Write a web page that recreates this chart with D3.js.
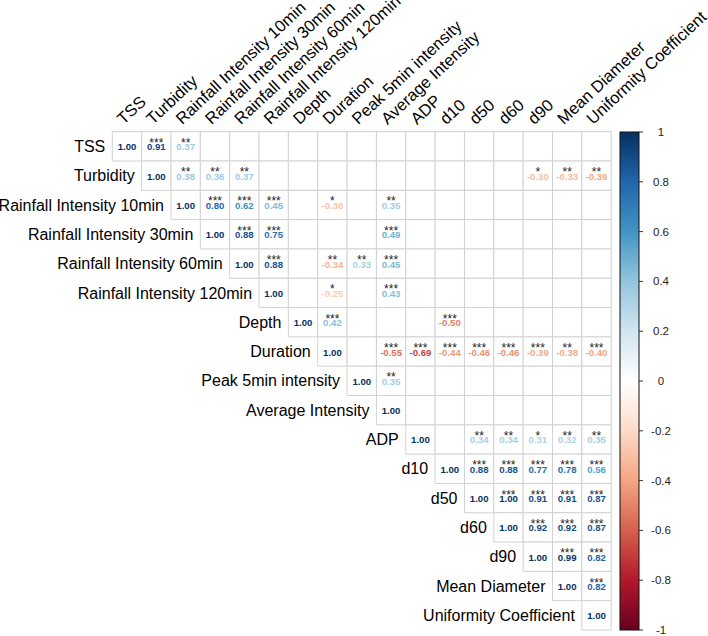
<!DOCTYPE html>
<html>
<head>
<meta charset="utf-8">
<script src="https://cdn.jsdelivr.net/npm/d3@7"></script>
<style>
  html, body { margin: 0; padding: 0; background: #fff; }
  svg { display: block; font-family: "Liberation Sans", Arial, sans-serif; }
</style>
</head>
<body>
<div id="chart"></div>
<script>
// Variables, in plot order
const vars = [
  "TSS", "Turbidity", "Rainfall Intensity 10min", "Rainfall Intensity 30min",
  "Rainfall Intensity 60min", "Rainfall Intensity 120min", "Depth", "Duration",
  "Peak 5min intensity", "Average Intensity", "ADP", "d10", "d50", "d60", "d90",
  "Mean Diameter", "Uniformity Coefficient"
];

// Significant off-diagonal correlations: [row, column, r, stars]
const pairs = [
  ["TSS", "Turbidity", 0.91, "***"],
  ["TSS", "Rainfall Intensity 10min", 0.37, "**"],
  ["Turbidity", "Rainfall Intensity 10min", 0.38, "**"],
  ["Turbidity", "Rainfall Intensity 30min", 0.36, "**"],
  ["Turbidity", "Rainfall Intensity 60min", 0.37, "**"],
  ["Turbidity", "d90", -0.30, "*"],
  ["Turbidity", "Mean Diameter", -0.33, "**"],
  ["Turbidity", "Uniformity Coefficient", -0.39, "**"],
  ["Rainfall Intensity 10min", "Rainfall Intensity 30min", 0.80, "***"],
  ["Rainfall Intensity 10min", "Rainfall Intensity 60min", 0.62, "***"],
  ["Rainfall Intensity 10min", "Rainfall Intensity 120min", 0.45, "***"],
  ["Rainfall Intensity 10min", "Duration", -0.30, "*"],
  ["Rainfall Intensity 10min", "Average Intensity", 0.35, "**"],
  ["Rainfall Intensity 30min", "Rainfall Intensity 60min", 0.88, "***"],
  ["Rainfall Intensity 30min", "Rainfall Intensity 120min", 0.75, "***"],
  ["Rainfall Intensity 30min", "Average Intensity", 0.49, "***"],
  ["Rainfall Intensity 60min", "Rainfall Intensity 120min", 0.88, "***"],
  ["Rainfall Intensity 60min", "Duration", -0.34, "**"],
  ["Rainfall Intensity 60min", "Peak 5min intensity", 0.33, "**"],
  ["Rainfall Intensity 60min", "Average Intensity", 0.45, "***"],
  ["Rainfall Intensity 120min", "Duration", -0.25, "*"],
  ["Rainfall Intensity 120min", "Average Intensity", 0.43, "***"],
  ["Depth", "Duration", 0.42, "***"],
  ["Depth", "d10", -0.50, "***"],
  ["Duration", "Average Intensity", -0.55, "***"],
  ["Duration", "ADP", -0.69, "***"],
  ["Duration", "d10", -0.44, "***"],
  ["Duration", "d50", -0.46, "***"],
  ["Duration", "d60", -0.46, "***"],
  ["Duration", "d90", -0.39, "***"],
  ["Duration", "Mean Diameter", -0.38, "**"],
  ["Duration", "Uniformity Coefficient", -0.40, "***"],
  ["Peak 5min intensity", "Average Intensity", 0.35, "**"],
  ["ADP", "d50", 0.34, "**"],
  ["ADP", "d60", 0.34, "**"],
  ["ADP", "d90", 0.31, "*"],
  ["ADP", "Mean Diameter", 0.32, "**"],
  ["ADP", "Uniformity Coefficient", 0.35, "**"],
  ["d10", "d50", 0.88, "***"],
  ["d10", "d60", 0.88, "***"],
  ["d10", "d90", 0.77, "***"],
  ["d10", "Mean Diameter", 0.78, "***"],
  ["d10", "Uniformity Coefficient", 0.56, "***"],
  ["d50", "d60", 1.00, "***"],
  ["d50", "d90", 0.91, "***"],
  ["d50", "Mean Diameter", 0.91, "***"],
  ["d50", "Uniformity Coefficient", 0.87, "***"],
  ["d60", "d90", 0.92, "***"],
  ["d60", "Mean Diameter", 0.92, "***"],
  ["d60", "Uniformity Coefficient", 0.87, "***"],
  ["d90", "Mean Diameter", 0.99, "***"],
  ["d90", "Uniformity Coefficient", 0.82, "***"],
  ["Mean Diameter", "Uniformity Coefficient", 0.82, "***"]
];

// RdBu palette used by corrplot, from -1 to 1
const paletteStops = ["#67001F", "#B2182B", "#D6604D", "#F4A582", "#FDDBC7", "#FFFFFF",
                      "#D1E5F0", "#92C5DE", "#4393C3", "#2166AC", "#053061"];
const legendTicks = [-1, -0.8, -0.6, -0.4, -0.2, 0, 0.2, 0.4, 0.6, 0.8, 1];

const width = 708, height = 636;

const svg = d3.select("#chart").append("svg")
  .attr("width", width)
  .attr("height", height);

const x = d3.scaleBand().domain(vars).range([112.3, 611.2]);
const y = d3.scaleBand().domain(vars).range([131.7, 630]);

const color = d3.scaleLinear()
  .domain(paletteStops.map((d, i) => -1 + i * 0.2))
  .range(paletteStops);

const fmt = v => v.toFixed(2);

// grid over the upper triangle (diagonal included)
const cells = [];
vars.forEach((r, i) => vars.forEach((c, j) => { if (j >= i) cells.push([r, c]); }));

svg.append("g")
  .selectAll("rect")
  .data(cells)
  .join("rect")
  .attr("x", d => x(d[1]))
  .attr("y", d => y(d[0]))
  .attr("width", x.bandwidth())
  .attr("height", y.bandwidth())
  .attr("fill", "#fff")
  .attr("stroke", "#d2d2d2")
  .attr("stroke-width", 1);

// diagonal + significant pairs
const shown = vars.map(v => [v, v, 1, ""]).concat(pairs);

const cell = svg.append("g")
  .selectAll("g")
  .data(shown)
  .join("g")
  .attr("transform", d => `translate(${x(d[1]) + x.bandwidth() / 2},${y(d[0]) + y.bandwidth() / 2})`);

cell.append("text")
  .attr("text-anchor", "middle")
  .attr("y", 4)
  .attr("font-size", 9.6)
  .attr("font-weight", "bold")
  .attr("fill", d => color(d[2]))
  .text(d => fmt(d[2]));

cell.append("text")
  .attr("text-anchor", "middle")
  .attr("y", 0.5)
  .attr("font-size", 12)
  .attr("fill", "#222")
  .text(d => d[3]);

// row labels
svg.append("g")
  .selectAll("text")
  .data(vars)
  .join("text")
  .attr("x", d => x(d) - 7)
  .attr("y", d => y(d) + y.bandwidth() / 2)
  .attr("dy", "0.35em")
  .attr("text-anchor", "end")
  .attr("font-size", 16)
  .attr("fill", "#000")
  .text(d => d);

// column labels
svg.append("g")
  .selectAll("text")
  .data(vars)
  .join("text")
  .attr("transform", d => `translate(${x(d) + x.bandwidth() / 2 - 3.5},${y.range()[0] - 6.5}) rotate(-43)`)
  .attr("text-anchor", "start")
  .attr("font-size", 16.5)
  .attr("fill", "#000")
  .text(d => d);

// colour legend
const barX = 620, barW = 19;
const ly = d3.scaleLinear().domain([-1, 1]).range([630, 132]);

const grad = svg.append("defs").append("linearGradient")
  .attr("id", "rdbu")
  .attr("x1", 0).attr("y1", 1).attr("x2", 0).attr("y2", 0);
grad.selectAll("stop")
  .data(paletteStops)
  .join("stop")
  .attr("offset", (d, i) => i / (paletteStops.length - 1))
  .attr("stop-color", d => d);

svg.append("rect")
  .attr("x", barX)
  .attr("y", ly(1))
  .attr("width", barW)
  .attr("height", ly(-1) - ly(1))
  .attr("fill", "url(#rdbu)")
  .attr("stroke", "#111")
  .attr("stroke-width", 1);

const lg = svg.append("g")
  .selectAll("g")
  .data(legendTicks)
  .join("g")
  .attr("transform", d => `translate(0,${ly(d)})`);

lg.append("line")
  .attr("x1", barX + barW)
  .attr("x2", barX + barW + 4)
  .attr("stroke", "#333");

lg.append("text")
  .attr("x", 661)
  .attr("dy", "0.35em")
  .attr("text-anchor", "middle")
  .attr("font-size", 11.5)
  .attr("fill", "#222")
  .text(d => String(d));
</script>
</body>
</html>
